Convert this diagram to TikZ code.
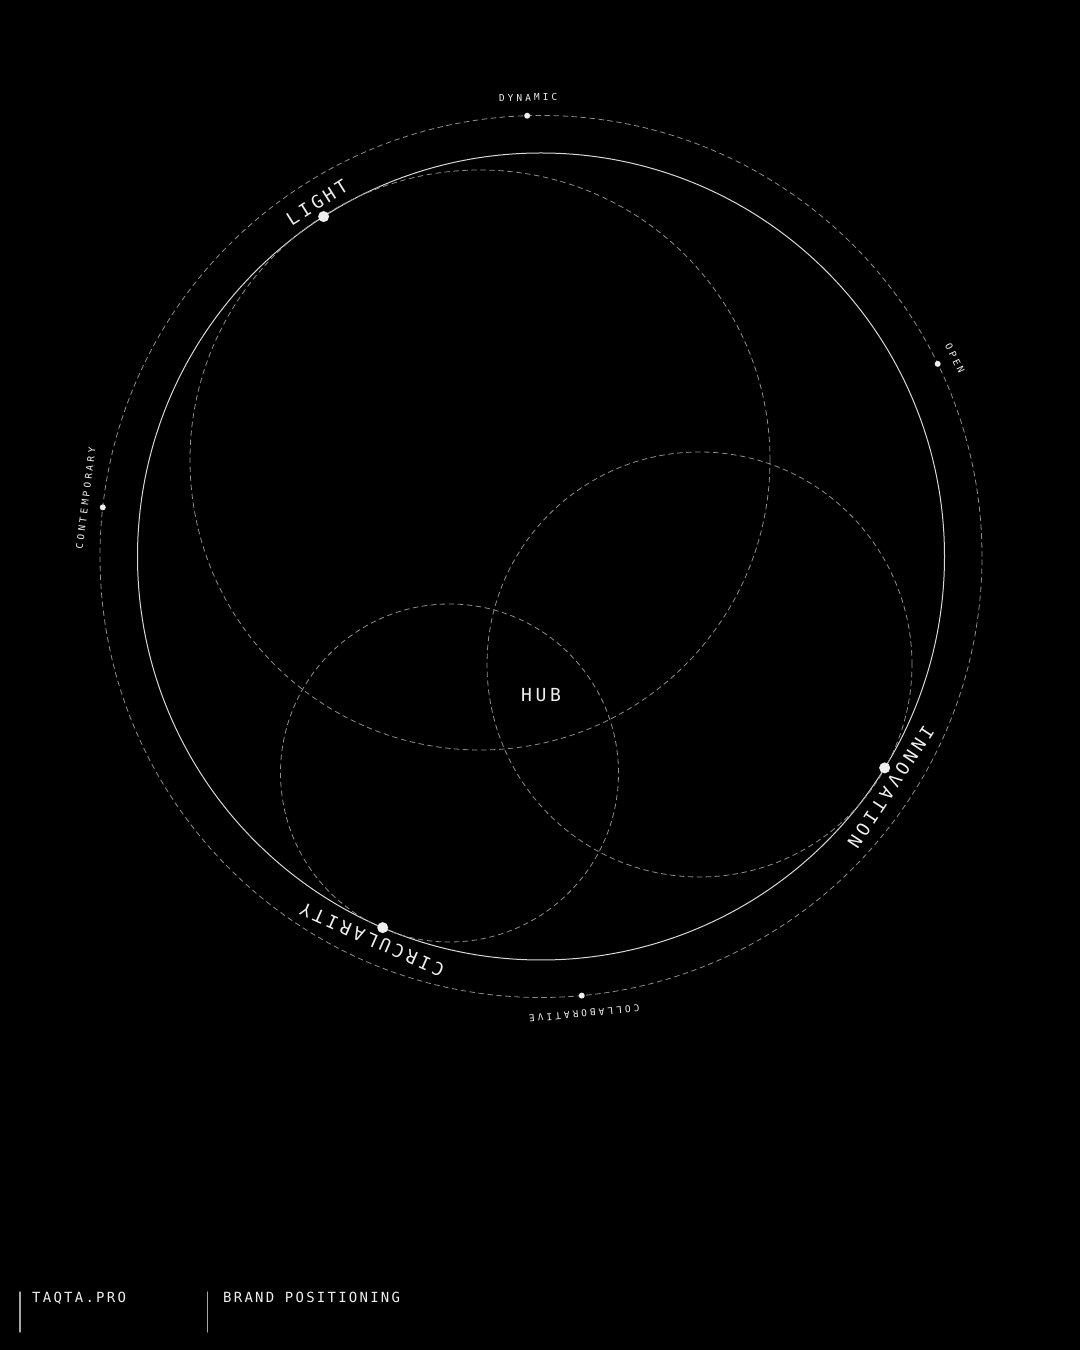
\documentclass[tikz,border=0pt]{standalone}
\usepackage{fontspec}
\newfontfamily\bigmono[LetterSpace=20]{DejaVu Sans Mono}
\newfontfamily\smallmono[LetterSpace=32]{DejaVu Sans Mono}
\newfontfamily\footmono[LetterSpace=16]{DejaVu Sans Mono}
\definecolor{textwhite}{HTML}{EFEFEF}
\definecolor{mainline}{HTML}{D8D8D8}
\definecolor{guidegray}{HTML}{8E8E8E}
\definecolor{footgray}{HTML}{A8A8A8}
\tikzset{
  bigdot/.style={circle,fill=textwhite,inner sep=0pt,minimum size=11pt},
  smalldot/.style={circle,fill=textwhite,inner sep=0pt,minimum size=6pt},
  biglabel/.style={text=textwhite,inner sep=0pt,font=\bigmono\fontsize{18}{20}\selectfont},
  smalllabel/.style={text=textwhite,inner sep=0pt,font=\smallmono\fontsize{9.5}{11}\selectfont},
  footlabel/.style={text=textwhite,inner sep=0pt,anchor=base west,font=\footmono\fontsize{14}{16}\selectfont},
  guide/.style={draw=guidegray,line width=0.8pt,dash pattern=on 5pt off 4pt},
  footline/.style={draw=footgray,line width=1.4pt}
}
\begin{document}
\begin{tikzpicture}[x=1pt,y=1pt,line join=round,line cap=round]
	% Parameters
	\def\R{403.5}   % main circle
	\def\Rout{441}  % outer dashed ring
	\def\Rl{419}    % big labels
	\def\Rs{459}    % small labels

	% Background
	\fill[black] (0,0) rectangle (1080,1350);
	\coordinate (O) at (541,793.5);

	% Main circle and outer ring
	\draw[mainline,line width=1pt] (O) circle[radius=\R];
	\draw[guide] (O) circle[radius=\Rout];

	% Three inner circles
	\draw[guide] (480,890) circle[radius=290];
	\draw[guide] (699.5,685.5) circle[radius=212.5];
	\draw[guide] (449.5,577) circle[radius=169];

	% Centre
	\node[biglabel] (hub) at (541,655) {HUB};

	% Points on the main circle
	\node[bigdot] (light) at ([shift={(122.6:\R)}]O) {};
	\node[bigdot] (innovation) at ([shift={(-31.6:\R)}]O) {};
	\node[bigdot] (circularity) at ([shift={(-113.1:\R)}]O) {};
	\node[biglabel,rotate=32.3] (lightlbl) at ([shift={(122.3:\Rl)}]O) {LIGHT};
	\node[biglabel,rotate=-123.4] (innovationlbl) at ([shift={(-33.4:\Rl)}]O) {INNOVATION};
	\node[biglabel,rotate=-203.8] (circularitylbl) at ([shift={(-113.8:\Rl)}]O) {CIRCULARITY};

	% Points on the outer ring
	\node[smalldot] (dynamic) at ([shift={(91.8:\Rout)}]O) {};
	\node[smalldot] (open) at ([shift={(25.9:\Rout)}]O) {};
	\node[smalldot] (contemporary) at ([shift={(173.6:\Rout)}]O) {};
	\node[smalldot] (collaborative) at ([shift={(-84.7:\Rout)}]O) {};
	\node[smalllabel,rotate=1.6] (dynamiclbl) at ([shift={(91.6:\Rs)}]O) {DYNAMIC};
	\node[smalllabel,rotate=-64.4] (openlbl) at ([shift={(25.6:\Rs)}]O) {OPEN};
	\node[smalllabel,rotate=82.7] (contemporarylbl) at ([shift={(172.7:\Rs)}]O) {CONTEMPORARY};
	\node[smalllabel,rotate=-174.6] (collaborativelbl) at ([shift={(-84.6:\Rs)}]O) {COLLABORATIVE};

	% Footer
	\draw[footline] (20,58) -- (20,18);
	\draw[footline] (207.5,58) -- (207.5,18);
	\node[footlabel] (site) at (32,47) {TAQTA.PRO};
	\node[footlabel] (topic) at (223,47) {BRAND POSITIONING};
\end{tikzpicture}
\end{document}
